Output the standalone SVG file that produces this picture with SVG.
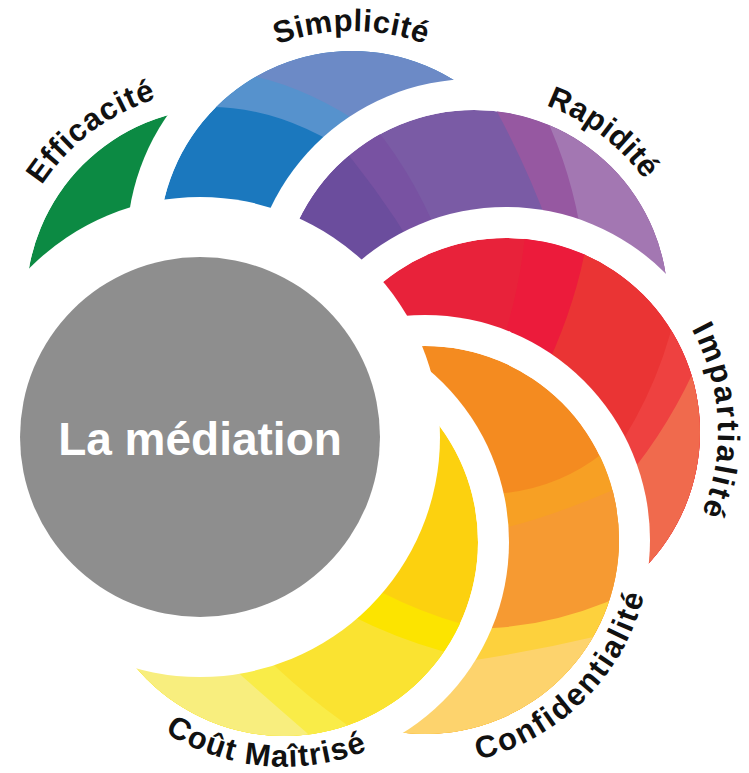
<svg xmlns="http://www.w3.org/2000/svg" width="749" height="773" viewBox="0 0 749 773">
<style>
.halo{fill:#ffffff}
.lbl{font-family:"Liberation Sans",Arial,sans-serif;font-weight:bold;font-size:31px;fill:#111111}
.title{font-family:"Liberation Sans",Arial,sans-serif;font-weight:bold;font-size:46px;fill:#ffffff}
</style>
<defs>
<clipPath id="c-green"><circle cx="220" cy="302" r="194"/></clipPath>
<clipPath id="c-blue"><circle cx="352" cy="244" r="193"/></clipPath>
<clipPath id="c-purple"><circle cx="474" cy="304" r="194"/></clipPath>
<clipPath id="c-red"><circle cx="506" cy="432" r="194"/></clipPath>
<clipPath id="c-orange"><circle cx="425" cy="540" r="194"/></clipPath>
<clipPath id="c-yellow"><circle cx="284" cy="542" r="194"/></clipPath>
<path id="p-eff" d="M 9.1 272.4 A 213 213 0 0 1 249.6 91.1"/>
<path id="p-sim" d="M 200.9 93.9 A 213 213 0 0 1 502.1 92.9"/>
<path id="p-rap" d="M 444.6 95 A 211 211 0 0 1 683 274.6"/>
<path id="p-imp" d="M 633.9 262.9 A 212 212 0 0 1 650.3 587.3"/>
<path id="p-con" d="M 366.5 758.3 A 226 226 0 0 0 643.3 481.5"/>
<path id="p-cou" d="M 90 654 A 223 223 0 0 0 455.6 686"/>
</defs>
<rect width="749" height="773" fill="#ffffff"/>

<g id="efficacite">
<g clip-path="url(#c-green)">
<circle cx="220" cy="302" r="194" fill="#0C8A43"/>
</g>
<text class="lbl" letter-spacing="0.9"><textPath href="#p-eff" startOffset="50%" text-anchor="middle">Efficacité</textPath></text>
</g>

<g id="simplicite">
<circle class="halo" cx="352" cy="244" r="225"/>
<g clip-path="url(#c-blue)">
<circle cx="352" cy="244" r="193" fill="#1B78BE"/>
<path d="M 190,108 Q 275,100 360,160 L 520,260 L 520,0 L 190,0 Z" fill="#5692CD"/>
<path d="M 230,72 Q 300,81 370,130 L 520,230 L 520,0 L 230,0 Z" fill="#6C8AC6"/>
</g>
<text class="lbl" letter-spacing="0.5"><textPath href="#p-sim" startOffset="50%" text-anchor="middle">Simplicité</textPath></text>
</g>

<g id="rapidite">
<circle class="halo" cx="474" cy="304" r="225"/>
<g clip-path="url(#c-purple)">
<circle cx="474" cy="304" r="194" fill="#7A5BA5"/>
<path d="M 360,110 Q 410,165 440,240 L 460,300 L 250,300 L 250,110 Z" fill="#7852A2"/>
<path d="M 330,133 Q 377,187 415,250 L 440,300 L 250,300 L 250,133 Z" fill="#6B4D9D"/>
<path d="M 485,90 Q 525,160 550,230 L 570,300 L 720,300 L 720,90 Z" fill="#9658A1"/>
<path d="M 540,105 Q 572,170 582,240 L 600,320 L 720,320 L 720,105 Z" fill="#A377B2"/>
</g>
<text class="lbl" letter-spacing="0.4"><textPath href="#p-rap" startOffset="50%" text-anchor="middle">Rapidité</textPath></text>
</g>

<g id="impartialite">
<circle class="halo" cx="506" cy="432" r="225"/>
<g clip-path="url(#c-red)">
<circle cx="506" cy="432" r="194" fill="#E8223A"/>
<path d="M 525,235 Q 520,290 500,350 L 560,600 L 760,600 L 760,235 Z" fill="#EC1B3B"/>
<path d="M 590,220 Q 580,300 540,380 L 600,600 L 760,600 L 760,220 Z" fill="#EA3434"/>
<path d="M 680,290 Q 665,380 610,460 L 640,600 L 760,600 L 760,290 Z" fill="#EE4140"/>
<path d="M 705,345 Q 675,420 625,480 L 640,600 L 760,600 L 760,345 Z" fill="#F06A4D"/>
</g>
<text class="lbl" letter-spacing="2.3"><textPath href="#p-imp" startOffset="50%" text-anchor="middle">Impartialité</textPath></text>
</g>

<g id="confidentialite">
<circle class="halo" cx="425" cy="540" r="225"/>
<g clip-path="url(#c-orange)">
<circle cx="425" cy="540" r="194" fill="#F48B20"/>
<path d="M 380,497 L 505,493 Q 560,487 603,453 L 640,425 L 640,773 L 380,773 Z" fill="#F7A024"/>
<path d="M 380,532 L 508,527 Q 553.5,515.5 613,490 L 650,470 L 650,773 L 380,773 Z" fill="#F69A32"/>
<path d="M 380,650 L 493,628 Q 550,625 607,602 L 650,580 L 650,773 L 380,773 Z" fill="#FDD13D"/>
<path d="M 380,685 L 462,662 Q 530,652 598,636 L 650,620 L 650,773 L 380,773 Z" fill="#FDD36D"/>
</g>
<text class="lbl" letter-spacing="2.1"><textPath href="#p-con" startOffset="50%" text-anchor="middle">Confidentialité</textPath></text>
</g>

<g id="cout-maitrise">
<circle class="halo" cx="284" cy="542" r="225"/>
<g clip-path="url(#c-yellow)">
<circle cx="284" cy="542" r="194" fill="#FCD10F"/>
<path d="M 370,585 L 383,593 Q 420,612 462,624 L 520,640 L 520,773 L 100,773 L 100,585 Z" fill="#FCE400"/>
<path d="M 340,610 L 350,615 Q 395,638 445,652 L 520,672 L 520,773 L 100,773 L 100,610 Z" fill="#FAE331"/>
<path d="M 260,650 L 277,668 Q 308,697 343,722 L 380,750 L 380,773 L 100,773 L 100,650 Z" fill="#F9EC48"/>
<path d="M 225,660 L 243,677 Q 275,705 307,733 L 330,760 L 330,773 L 100,773 L 100,660 Z" fill="#F8EE7E"/>
</g>
<text class="lbl" letter-spacing="1.2"><textPath href="#p-cou" startOffset="50%" text-anchor="middle">Coût Maîtrisé</textPath></text>
</g>

<g id="la-mediation">
<circle class="halo" cx="200" cy="437" r="240"/>
<circle cx="200" cy="437" r="180" fill="#8E8E8E"/>
<text class="title" x="200" y="455" text-anchor="middle">La médiation</text>
</g>
</svg>
